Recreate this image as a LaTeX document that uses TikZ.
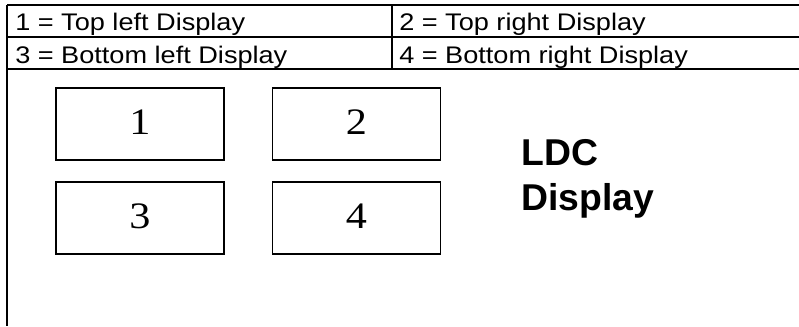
\documentclass[tikz,border=0pt]{standalone}
\usepackage{fontspec}
\setmainfont{Liberation Sans}
\newfontfamily\legendfont{Liberation Sans}[FakeStretch=1.13]
\newfontfamily\boxfont{Liberation Serif}[FakeStretch=1.13]
\usetikzlibrary{positioning}

\begin{document}
\begin{tikzpicture}[x=0.75pt, y=-0.75pt,
    rule/.style    = {line width=1.5pt},
    legend/.style  = {anchor=base west, inner sep=0pt, font=\legendfont\fontsize{18}{21.6}\selectfont},
    screen/.style  = {draw, line width=1pt, minimum width=126pt, minimum height=54pt,
                      inner sep=0pt, text depth=3pt, font=\boxfont\fontsize{28}{33.6}\selectfont},
    title/.style   = {anchor=base west, inner sep=0pt, font=\bfseries\fontsize{28}{33.6}\selectfont}]
  \useasboundingbox (0,0) rectangle (799,326);
  % legend table
  \draw[rule] (7,5) -- (799,5);
  \draw[rule] (7,37) -- (799,37);
  \draw[rule] (7,68.5) -- (799,68.5);
  \draw[rule] (7,5) -- (7,326);
  \draw[rule] (392,5) -- (392,68.5);
  \node [legend] (topleft)     at (15,30.5) {1 = Top left Display};
  \node [legend] (topright)    at (399,30.5) {2 = Top right Display};
  \node [legend] (bottomleft)  at (15,63.5) {3 = Bottom left Display};
  \node [legend] (bottomright) at (399,63.5) {4 = Bottom right Display};
  % the four displays
  \node [screen] (d1) at (140,124)   {1};
  \node [screen] (d2) at (356.5,124) {2};
  \node [screen] (d3) at (140,218)   {3};
  \node [screen] (d4) at (356.5,218) {4};
  \node [title] (ldc)  at (521,165) {LDC};
  \node [title] (disp) at ([yshift=-33.75pt] ldc.base west) {Display};
\end{tikzpicture}
\end{document}
